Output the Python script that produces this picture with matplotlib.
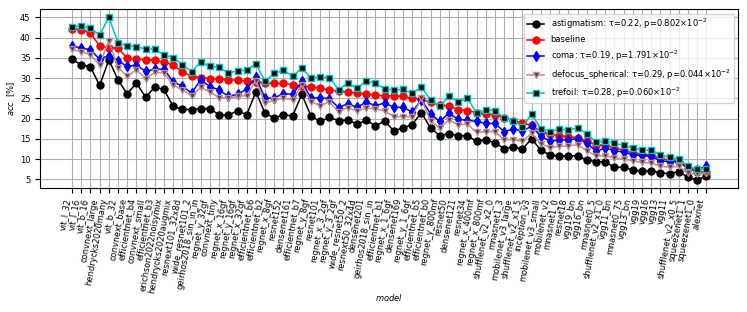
import matplotlib
matplotlib.use("Agg")
import matplotlib.pyplot as plt
import numpy as np

# models, sorted by baseline accuracy
models = [
    "vit_l_32", "vit_l_16", "vit_b_16", "convnext_large", "hendrycks2020many",
    "vit_b_32", "convnext_base", "efficientnet_b4", "convnext_small", "efficientnet_b3",
    "erichson2022noisymix", "hendrycks2020augmix", "resnext101_32x8d", "wide_resnet101_2",
    "geirhos2018_sin_in_in", "regnet_y_32gf", "convnext_tiny", "regnet_x_16gf",
    "regnet_y_16gf", "regnet_x_32gf", "efficientnet_b6", "efficientnet_b2", "regnet_x_8gf",
    "resnet152", "densenet161", "efficientnet_b7", "regnet_y_8gf", "resnet101",
    "regnet_x_3_2gf", "regnet_y_3_2gf", "wide_resnet50_2", "resnext50_32x4d", "densenet201",
    "geirhos2018_sin_in", "efficientnet_b1", "regnet_x_1_6gf", "densenet169",
    "regnet_y_1_6gf", "efficientnet_b5", "efficientnet_b0", "regnet_y_800mf", "resnet50",
    "densenet121", "resnet34", "regnet_x_400mf", "regnet_x_800mf", "shufflenet_v2_x2_0",
    "mnasnet1_3", "mobilenet_v3_large", "shufflenet_v2_x1_5", "inception_v3",
    "mobilenet_v3_small", "mobilenet_v2", "mnasnet1_0", "resnet18", "vgg19_bn", "vgg16_bn",
    "mnasnet0_5", "shufflenet_v2_x1_0", "vgg11_bn", "mnasnet0_75", "vgg13_bn", "vgg19",
    "vgg16", "vgg13", "vgg11", "shufflenet_v2_x0_5", "squeezenet1_1", "squeezenet1_0",
    "alexnet",
]

astigmatism = [
    34.7, 33.3, 32.8, 28.2, 34.5, 29.6, 26.1, 28.8, 25.3, 27.8,
    27.2, 23.0, 22.3, 22.2, 22.5, 22.5, 20.9, 20.9, 21.9, 21.0,
    26.6, 21.3, 20.2, 20.9, 20.7, 26.0, 20.6, 19.3, 20.3, 19.5,
    19.7, 18.6, 19.6, 18.2, 19.4, 17.0, 17.7, 18.5, 21.5, 17.7,
    15.8, 16.3, 15.8, 15.8, 14.4, 14.8, 14.0, 12.6, 13.0, 12.5,
    15.0, 12.2, 11.0, 10.8, 10.8, 10.8, 9.8, 9.4, 9.3, 8.0,
    8.0, 7.3, 7.0, 7.1, 6.6, 6.4, 6.9, 5.5, 4.9, 5.8,
]
baseline = [
    42.2, 42.0, 41.2, 37.9, 37.5, 37.4, 34.9, 34.7, 34.6, 34.4,
    34.0, 33.3, 31.5, 30.5, 30.1, 29.9, 29.8, 29.6, 29.5, 29.3,
    29.1, 28.8, 28.7, 28.7, 28.4, 28.0, 27.8, 27.5, 27.1, 26.8,
    26.6, 26.3, 26.1, 25.8, 25.6, 25.6, 25.5, 25.0, 24.8, 24.0,
    23.3, 23.2, 22.2, 22.0, 21.5, 21.2, 21.0, 20.2, 19.5, 18.9,
    18.3, 16.8, 16.1, 15.8, 15.5, 15.3, 14.5, 13.5, 13.4, 12.8,
    12.2, 11.5, 11.2, 11.0, 10.2, 9.7, 9.4, 7.6, 6.9, 6.9,
]
coma = [
    37.9, 37.5, 37.0, 34.7, 35.6, 34.3, 32.9, 33.2, 31.7, 32.2,
    32.2, 29.1, 28.0, 26.3, 29.6, 27.9, 27.1, 25.5, 26.0, 27.3,
    30.2, 25.0, 25.1, 26.2, 26.0, 29.2, 25.0, 25.2, 24.9, 22.7,
    23.7, 22.8, 24.1, 23.2, 23.9, 22.8, 22.8, 21.6, 24.7, 21.2,
    19.3, 21.4, 19.8, 19.6, 19.3, 18.8, 18.8, 16.8, 17.4, 17.0,
    18.1, 15.6, 14.5, 14.6, 14.8, 15.0, 14.0, 11.9, 12.7, 12.1,
    11.7, 11.1, 10.9, 10.7, 9.6, 9.3, 9.4, 7.8, 7.4, 8.2,
]
defocus_spherical = [
    37.1, 36.5, 35.8, 33.2, 39.3, 32.6, 30.5, 32.1, 29.9, 31.4,
    31.3, 28.3, 27.1, 25.6, 27.7, 26.6, 25.2, 25.0, 25.5, 25.7,
    29.4, 23.8, 24.6, 25.0, 24.7, 28.4, 24.2, 23.2, 24.1, 21.7,
    22.7, 21.9, 22.6, 22.4, 21.9, 20.5, 20.5, 20.5, 25.0, 19.3,
    17.7, 19.7, 18.5, 18.6, 16.6, 16.8, 16.8, 14.8, 14.8, 14.4,
    16.4, 13.8, 12.8, 13.2, 13.2, 13.6, 12.0, 10.8, 10.8, 10.3,
    10.0, 9.5, 9.2, 9.0, 8.2, 8.0, 8.2, 6.6, 6.2, 6.6,
]
trefoil = [
    42.6, 43.0, 42.3, 40.7, 45.0, 38.8, 38.0, 37.8, 37.2, 37.2,
    35.7, 35.1, 33.3, 31.6, 34.0, 32.9, 32.7, 31.3, 31.8, 32.0,
    33.5, 29.3, 31.2, 31.9, 30.5, 32.5, 30.0, 30.3, 30.1, 27.1,
    28.8, 27.5, 29.3, 28.8, 27.4, 27.1, 27.2, 26.3, 27.7, 24.6,
    23.0, 25.6, 24.1, 25.0, 21.5, 22.2, 22.0, 20.1, 19.5, 18.0,
    21.1, 17.5, 16.8, 17.4, 17.2, 17.7, 16.3, 14.2, 14.4, 13.9,
    13.4, 12.8, 12.2, 12.2, 11.0, 10.5, 10.0, 8.2, 7.5, 7.6,
]

labels = [
    "astigmatism: τ=0.22, p=0.802×10$^{-2}$",
    "baseline",
    "coma: τ=0.19, p=1.791×10$^{-2}$",
    "defocus_spherical: τ=0.29, p=0.044×10$^{-2}$",
    "trefoil: τ=0.28, p=0.060×10$^{-2}$",
]


def main():
    plt.rcParams["font.size"] = 6
    x = np.arange(len(models))

    fig = plt.figure(figsize=(7.47, 3.12), dpi=100)
    fig.subplots_adjust(left=0.054, right=0.988, top=0.970, bottom=0.398)
    ax = fig.add_subplot(111)

    ax.plot(x, astigmatism, color="k", marker="o", ms=5, lw=1.1, label=labels[0])
    ax.plot(x, baseline, color="r", marker="o", ms=5, lw=1.1, label=labels[1])
    ax.plot(x, coma, color="b", marker="d", ms=5, lw=1.1, label=labels[2])
    ax.plot(x, defocus_spherical, color="rosybrown", marker="v", ms=5, lw=1.1,
            mfc="#5a3030", mec="rosybrown", label=labels[3])
    ax.plot(x, trefoil, color="c", marker="s", ms=4.5, lw=1.1,
            mfc="k", mec="c", label=labels[4])

    ax.set_xticks(x)
    ax.set_xticklabels(models, rotation=80, ha="right", va="top")
    ax.set_yticks([5, 10, 15, 20, 25, 30, 35, 40, 45])
    ax.grid(True)
    ax.set_xlabel(r"$model$")
    ax.set_ylabel(r"$acc$  [%]")
    ax.xaxis.set_label_coords(0.5, -0.585)
    ax.yaxis.set_label_coords(-0.033, 0.5)
    ax.legend(loc="upper right", fontsize=6)

    fig.savefig("out.png", dpi=100)
    plt.close(fig)


if __name__ == "__main__":
    main()
